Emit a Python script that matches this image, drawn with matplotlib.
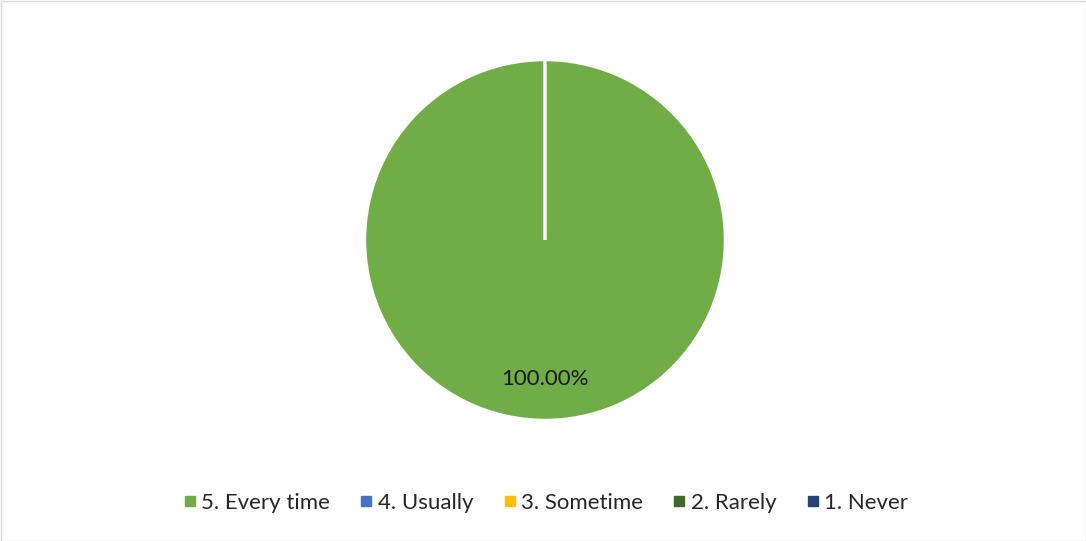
import matplotlib
matplotlib.use("Agg")
import matplotlib.pyplot as plt
from matplotlib.patches import Rectangle
from matplotlib.lines import Line2D

categories = ["5. Every time", "4. Usually", "3. Sometime", "2. Rarely", "1. Never"]
values = [100.0, 0.0, 0.0, 0.0, 0.0]
colors = ["#70AD47", "#4472C4", "#FFC000", "#43682B", "#264478"]

plt.rcParams['font.family'] = ['Lato', 'DejaVu Sans']

W, H = 1086, 541
fig = plt.figure(figsize=(W / 100, H / 100), dpi=100)
fig.patch.set_facecolor("white")

cx, cy, r = 545, 541 - 240, 180
ax = fig.add_axes([(cx - r) / W, (cy - r) / H, 2 * r / W, 2 * r / H])

def fmt(p):
    return f"{p:.2f}%" if p > 0 else ""

wedges, texts, autotexts = ax.pie(
    values, colors=colors, startangle=90, counterclock=False,
    autopct=fmt, pctdistance=0.77, radius=1.0,
    wedgeprops=dict(edgecolor="white", linewidth=1.8),
    textprops=dict(fontsize=16, color="#1a1a1a"),
)
ax.set_xlim(-1, 1)
ax.set_ylim(-1, 1)
ax.set_aspect("equal")
ax.axis("off")

handles = [Line2D([], [], marker="s", linestyle="", markersize=7,
                  markerfacecolor=c, markeredgecolor=c) for c in colors]
fig.legend(handles, categories, loc="center", bbox_to_anchor=(545 / W, 1 - 503 / H),
           ncol=5, frameon=False, fontsize=16, handletextpad=0.15,
           columnspacing=1.3, handlelength=0.7, labelcolor="#262626")

fig.add_artist(Rectangle((0.5 / W, 0.5 / H), 1 - 1.0 / W, 1 - 1.0 / H,
                         transform=fig.transFigure, fill=False,
                         edgecolor="#d9d9d9", linewidth=1))

fig.savefig("out.png", dpi=100)
